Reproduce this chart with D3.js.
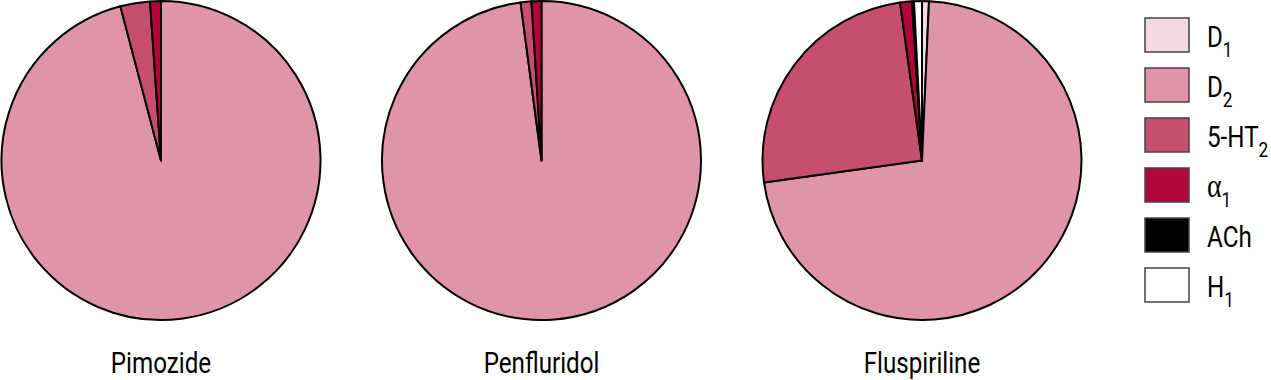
<!DOCTYPE html>
<html><head><meta charset="utf-8">
<script src="https://cdn.jsdelivr.net/npm/d3@7"></script>
<style>body{margin:0;background:#fff}svg{display:block}text{font-family:Roboto,"DejaVu Sans Condensed",sans-serif;fill:#000}</style>
</head><body><svg id="c" width="1271" height="380"></svg>
<script>
const receptors = ["D1","D2","5-HT2","α1","ACh","H1"];
const legendMain = ["D","D","5-HT","α","ACh","H"];
const legendSub = ["1","2","2","1","","1"];
const colors = ["#f5d9e1","#df94a9","#c84e70","#b1063a","#000000","#ffffff"];
const drugs = ["Pimozide","Penfluridol","Fluspiriline"];
const pimozide = [0, 95.9, 3.0, 1.1, 0, 0];
const penfluridol = [0, 97.9, 1.1, 1.0, 0, 0];
const fluspiriline = [0.7, 72.1, 25.0, 1.2, 0.2, 0.8];
const values = [pimozide, penfluridol, fluspiriline];

const svg = d3.select("#c");
const R = 159.5, SX = 0.82;
const xs = d3.scalePoint().domain(drugs).range([161, 922]);
const color = d3.scaleOrdinal().domain(receptors).range(colors);
const pie = d3.pie().sort(null).value(d => d.v);
const arc = d3.arc().innerRadius(0).outerRadius(R);

drugs.forEach((name, i) => {
  const g = svg.append("g").attr("transform", `translate(${xs(name)},160.5)`);
  const data = receptors.map((r, j) => ({r, v: values[i][j]})).filter(d => d.v > 0);
  g.selectAll("path").data(pie(data)).join("path")
    .attr("d", arc).attr("fill", d => color(d.data.r))
    .attr("stroke", "#000").attr("stroke-width", 2).attr("stroke-linejoin", "round");
  svg.append("text").attr("transform", `translate(${xs(name)},372.5) scale(${SX},1)`)
    .attr("text-anchor", "middle").attr("font-size", 29.5).text(name);
});

const ly = d3.scaleBand().domain(receptors).range([10, 310]);
const lg = svg.append("g");
receptors.forEach((r, j) => {
  const y = ly(r) + 8;
  lg.append("rect").attr("x", 1145).attr("y", y).attr("width", 44).attr("height", 34)
    .attr("fill", color(r)).attr("stroke", "#444").attr("stroke-width", 1.5);
  const t = lg.append("text").attr("transform", `translate(1207,${y + 28.5}) scale(${SX},1)`)
    .attr("font-size", 29.5);
  const m = t.append("tspan").text(legendMain[j]);
  if (legendMain[j] === "α") m.attr("font-family", "'Liberation Serif','DejaVu Serif',serif").attr("font-size", 34);
  if (legendSub[j]) t.append("tspan").attr("dy", 10).attr("font-size", 21).text(legendSub[j]);
});
</script></body></html>
